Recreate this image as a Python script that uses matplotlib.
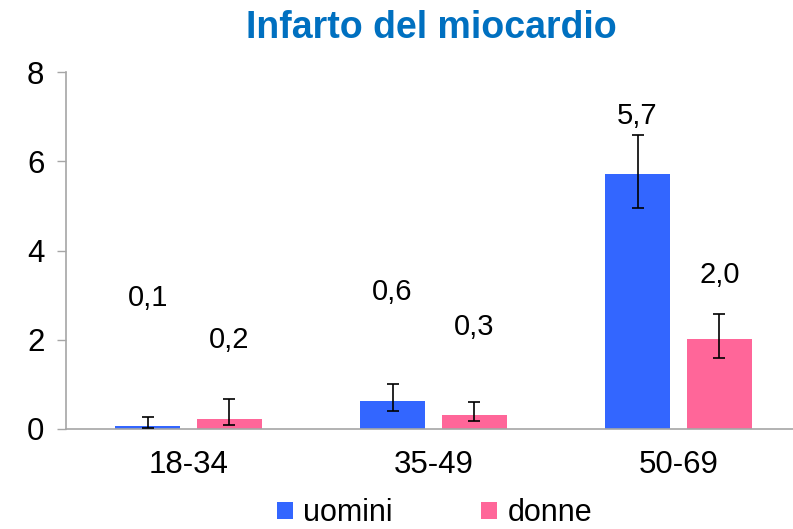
import numpy as np
import matplotlib
matplotlib.use("Agg")
import matplotlib.pyplot as plt
from matplotlib.patches import Patch

plt.rcParams['font.family'] = ['Liberation Sans', 'DejaVu Sans']

# data
groups = ['18-34', '35-49', '50-69']
series = ['uomini', 'donne']
uomini = [0.06, 0.63, 5.71]
donne = [0.22, 0.31, 2.01]
uomini_lo = [0.02, 0.41, 4.95]
uomini_hi = [0.27, 1.00, 6.59]
donne_lo = [0.10, 0.18, 1.60]
donne_hi = [0.67, 0.61, 2.57]
uomini_labels = ['0,1', '0,6', '5,7']
donne_labels = ['0,2', '0,3', '2,0']
# where the value labels sit (data units), as placed in the original
uomini_label_y = [2.94, 3.07, 7.02]
donne_label_y = [2.00, 2.29, 3.45]

BLUE = '#3366FF'
PINK = '#FF6699'
GRAY = '#A6A6A6'

fig = plt.figure(figsize=(7.93, 5.29), dpi=100)
ax = fig.add_axes([66 / 793, 100 / 529, 735 / 793, 357 / 529])

x = np.arange(len(groups))
w = 0.265
off = 0.167

for vals, lo, hi, col, sign, labs, ly in [
        (uomini, uomini_lo, uomini_hi, BLUE, -1, uomini_labels, uomini_label_y),
        (donne, donne_lo, donne_hi, PINK, 1, donne_labels, donne_label_y)]:
    xs = x + sign * off
    vals = np.array(vals)
    err = [vals - np.array(lo), np.array(hi) - vals]
    ax.bar(xs, vals, width=w, color=col, edgecolor='none', zorder=2)
    ax.errorbar(xs, vals, yerr=err, fmt='none', ecolor='black',
                elinewidth=1.2, capsize=4.5, capthick=1.2, zorder=3)
    for xi, t, yy in zip(xs, labs, ly):
        ax.text(xi, yy, t, ha='center', va='center', fontsize=21, color='black')

ax.set_xlim(-0.5, 2.5)
ax.set_ylim(0, 8)
ax.set_yticks([0, 2, 4, 6, 8])
ax.set_xticks(x)
ax.set_xticklabels(groups)

for s in ['top', 'right']:
    ax.spines[s].set_visible(False)
for s in ['left', 'bottom']:
    ax.spines[s].set_color(GRAY)
    ax.spines[s].set_linewidth(1.2)

ax.tick_params(axis='y', length=6.5, width=1, color=GRAY, labelsize=22.5, pad=9)
ax.tick_params(axis='x', length=0, labelsize=22.5, pad=15)

fig.text(0.544, 0.948, 'Infarto del miocardio', ha='center', va='center',
         fontsize=27, fontweight='bold', color='#0070C0')

handles = [Patch(facecolor=BLUE, edgecolor='none'), Patch(facecolor=PINK, edgecolor='none')]
fig.legend(handles, series, loc='center', bbox_to_anchor=(0.548, 0.03), ncol=2,
           frameon=False, fontsize=22, handlelength=0.5, handleheight=0.5,
           handletextpad=0.35, columnspacing=2.9, borderaxespad=0, borderpad=0)

fig.savefig('out.png', dpi=100)
